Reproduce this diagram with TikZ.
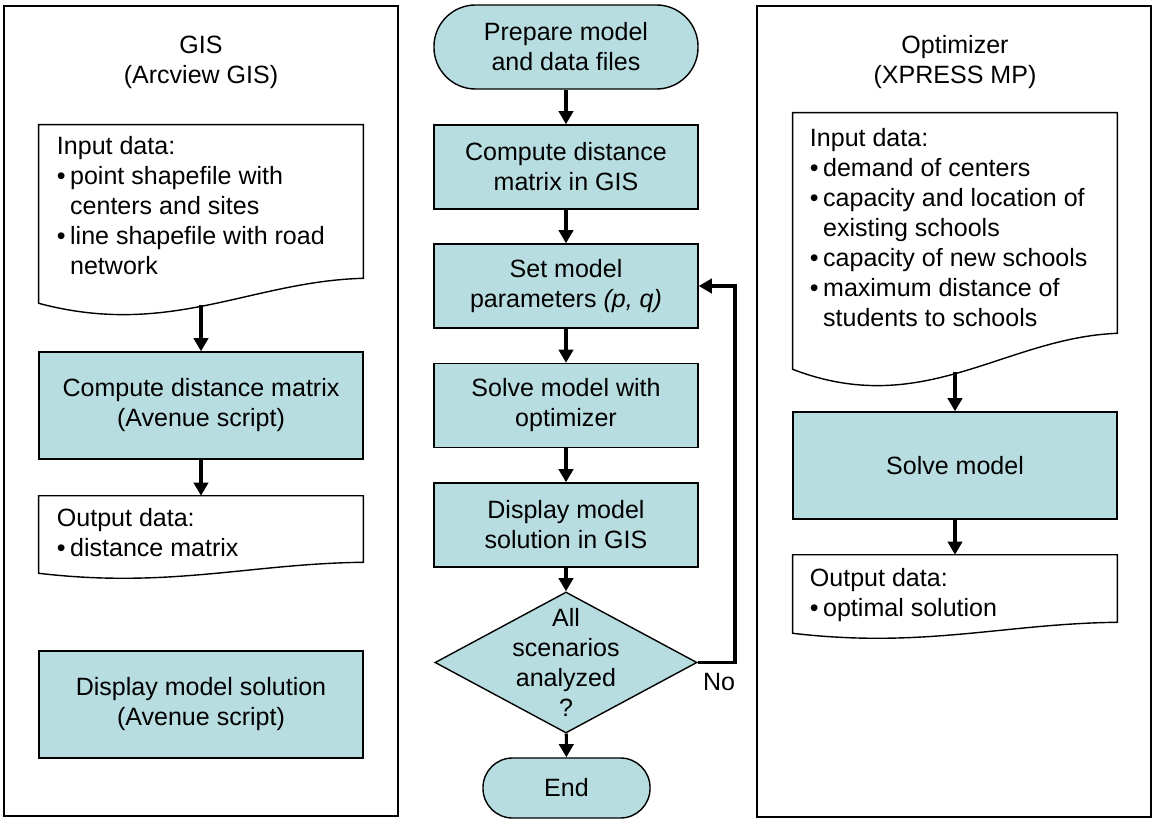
\documentclass[tikz,border=0pt]{standalone}
\usepackage{fontspec}
\setmainfont{Liberation Sans}
\usepackage{tikz}
\usetikzlibrary{arrows.meta, positioning, shapes.geometric, calc}
\definecolor{flowteal}{RGB}{183,221,224}

\newcommand{\bul}{\makebox[0.33cm][l]{\textbullet}}
\newcommand{\ind}{\hspace*{0.33cm}}
% document outline with a wavy bottom: #1 node, #2 drop of the wave
\newcommand{\docshape}[2]{%
  \draw[docline] (#1.north west) -- (#1.north east) -- (#1.south east)
    .. controls ($(#1.south east)+(-113,{0.12*#2})$) and ($(#1.south west)+(131,{2.4*#2})$)
    .. ($(#1.south west)+(0,#2)$) -- cycle;
  \coordinate (#1-tail) at ($(#1.south)+(0,{1.07*#2})$);}

\begin{document}
\begin{tikzpicture}[x=0.025cm, y=-0.025cm,
  every node/.style={font=\fontsize{17.8}{21.35}\selectfont},
  pbox/.style={draw, line width=1pt, fill=flowteal, align=center,
               minimum width=8.1cm, minimum height=2.675cm},
  mbox/.style={draw, line width=1pt, fill=flowteal, align=center,
               minimum width=6.6cm, minimum height=2.1cm},
  term/.style={mbox, rounded corners=1.04cm},
  docnode/.style={minimum width=8.1cm, inner sep=0},
  doctext/.style={anchor=north west, align=left, inner sep=0},
  docline/.style={draw, line width=1pt, fill=white},
  panel/.style={draw, line width=1.4pt},
  flow/.style={-{Triangle[length=0.33cm, width=0.36cm]}, line width=2.2pt}]
  \useasboundingbox (0,0) rectangle (1152,819);

  % LEFT panel: GIS
  \draw[panel] (4,6) rectangle (398,816);
  \node[align=center] (gtitle) at (201,62) {GIS\\(Arcview GIS)};
  \node[docnode, minimum height=3.825cm] (gin) at (201,201.5) {};
  \docshape{gin}{25}
  \node[doctext] (gintxt) at ($(gin.north west)+(18,11)$)
    {Input data:\\\bul point shapefile with\\\ind centers and sites\\
     \bul line shapefile with road\\\ind network};
  \node[pbox] (gcomp) at (201,405.5) {Compute distance matrix\\(Avenue script)};
  \node[docnode, minimum height=1.65cm] (gout) at (201,529) {};
  \docshape{gout}{11}
  \node[doctext] (gouttxt) at ($(gout.north west)+(18,12)$)
    {Output data:\\\bul distance matrix};
  \node[pbox] (gdisp) at (201,704.5) {Display model solution\\(Avenue script)};

  \draw[flow] (gin-tail) -- (gcomp.north);
  \draw[flow] (gcomp) -- (gout);

  % MIDDLE column: main loop
  \node[term] (start) at (566,47) {Prepare model\\and data files};
  \node[mbox] (mcomp) at (566,167) {Compute distance\\matrix in GIS};
  \node[mbox] (mset) at (566,286) {Set model\\parameters \textit{(p, q)}};
  \node[mbox] (msolve) at (566,405.5) {Solve model with\\optimizer};
  \node[mbox] (mdisp) at (566,525) {Display model\\solution in GIS};
  \node[diamond, draw, line width=1pt, fill=flowteal, inner sep=0,
        minimum width=6.55cm, minimum height=3.525cm] (chk) at (566,662.5) {};
  \node[align=center] (chktxt) at (chk) {All\\scenarios\\analyzed\\?};
  \node[term, minimum width=4.175cm, minimum height=1.5cm,
        rounded corners=0.74cm] (mend) at (566.5,788) {End};

  \draw[flow] (start) -- (mcomp);
  \draw[flow] (mcomp) -- (mset);
  \draw[flow] (mset) -- (msolve);
  \draw[flow] (msolve) -- (mdisp);
  \draw[flow] (mdisp) -- (chk);
  \draw[flow] (chk) -- (mend);

  % loop back when not all scenarios are done
  \coordinate (loopc) at (735,286);
  \draw[flow] (chk.east) -| (loopc) -- (mset.east);
  \node[anchor=north west, inner sep=0] (nolbl) at ($(chk.east)+(5,10)$) {No};

  % RIGHT panel: optimizer
  \draw[panel] (757,6) rectangle (1151,817);
  \node[align=center] (otitle) at (955,62) {Optimizer\\(XPRESS MP)};
  \node[docnode, minimum height=5.5cm] (oin) at (955,223) {};
  \docshape{oin}{36}
  \node[doctext] (ointxt) at ($(oin.north west)+(17,15)$)
    {Input data:\\\bul demand of centers\\\bul capacity and location of\\
     \ind existing schools\\\bul capacity of new schools\\
     \bul maximum distance of\\\ind students to schools};
  \node[pbox] (osolve) at (955,465.5) {Solve model};
  \node[docnode, minimum height=1.675cm] (oout) at (955,588.5) {};
  \docshape{oout}{11}
  \node[doctext] (oouttxt) at ($(oout.north west)+(17,13)$)
    {Output data:\\\bul optimal solution};

  \draw[flow] (oin-tail) -- (osolve.north);
  \draw[flow] (osolve) -- (oout);
\end{tikzpicture}
\end{document}
